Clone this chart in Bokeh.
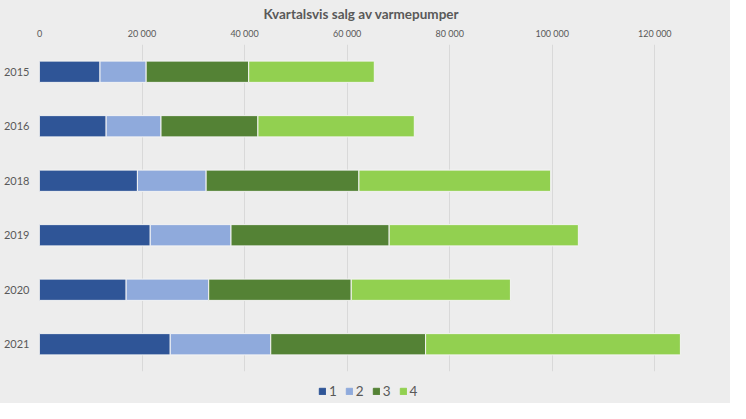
from bokeh.plotting import figure
from bokeh.layouts import column
from bokeh.models import (FactorRange, Range1d, Legend, LegendItem, CustomJSTickFormatter,
                          FixedTicker, ColumnDataSource)
from bokeh.embed import file_html
from bokeh.resources import INLINE

# ---- data ----
years = ["2015", "2016", "2018", "2019", "2020", "2021"]
quarters = ["1", "2", "3", "4"]
q1 = [11800, 13000, 19100, 21600, 16900, 25500]
q2 = [9000, 10700, 13400, 15750, 16100, 19600]
q3 = [20000, 18900, 29800, 30850, 27800, 30200]
q4 = [24500, 30500, 37400, 36900, 31050, 49700]
x_ticks = [0, 20000, 40000, 60000, 80000, 100000, 120000]
title_text = "Kvartalsvis salg av varmepumper"

colors = ["#2F5597", "#8FAADC", "#548235", "#92D050"]
FONT = "Lato"
GRAY = "#595959"
BG = "#EDEDED"
NAN = float("nan")

source = ColumnDataSource(dict(year=years, q1=q1, q2=q2, q3=q3, q4=q4))

p = figure(width=730, height=378, output_backend="svg", toolbar_location=None,
           y_range=FactorRange(factors=list(reversed(years)), range_padding=0),
           x_range=Range1d(0, 131650), x_axis_location="above",
           title=title_text,
           min_border_left=38, min_border_right=16, min_border_bottom=7, min_border_top=0)

renderers = p.hbar_stack(["q1", "q2", "q3", "q4"], y="year", height=0.39, color=colors,
                         source=source, line_color="#F4F4F4", line_width=1)

p.background_fill_color = BG
p.border_fill_color = BG
p.outline_line_color = None

p.title.align = "left"
p.title.offset = 224
p.title.standoff = 6
p.title.text_font = FONT
p.title.text_font_size = "13.5px"
p.title.text_font_style = "bold"
p.title.text_color = GRAY

xa = p.xaxis[0]
xa.ticker = FixedTicker(ticks=x_ticks)
xa.formatter = CustomJSTickFormatter(code="return tick.toLocaleString('en-US').replace(/,/g, ' ');")
xa.axis_line_color = None
xa.major_tick_line_color = None
xa.minor_tick_line_color = None
xa.major_tick_out = 0
xa.major_tick_in = 0
xa.minor_tick_out = 0
xa.major_label_text_font = FONT
xa.major_label_text_font_size = "9px"
xa.major_label_text_color = GRAY
xa.major_label_standoff = 6

ya = p.yaxis[0]
ya.axis_line_color = None
ya.major_tick_line_color = None
ya.minor_tick_line_color = None
ya.major_tick_out = 0
ya.major_tick_in = 0
ya.minor_tick_out = 0
ya.major_label_text_font = FONT
ya.major_label_text_font_size = "11px"
ya.major_label_text_color = GRAY
ya.major_label_standoff = 10

p.ygrid.grid_line_color = None
p.xgrid.ticker = FixedTicker(ticks=x_ticks)
p.xgrid.grid_line_color = "#D9D9D9"
p.xgrid.grid_line_width = 1

# legend in its own strip below the chart
lf = figure(width=730, height=25, output_backend="svg", toolbar_location=None,
            x_range=Range1d(0, 1), y_range=Range1d(0, 1),
            x_axis_type=None, y_axis_type=None,
            min_border_left=0, min_border_right=0, min_border_top=0, min_border_bottom=0)
lf.background_fill_color = BG
lf.border_fill_color = BG
lf.outline_line_color = None
lf.xgrid.visible = False
lf.ygrid.visible = False
keys = [lf.hbar(y=[0.5], left=[NAN], right=[NAN], height=0.5, color=c, line_color=c)
        for c in colors]
legend = Legend(items=[LegendItem(label=q, renderers=[r]) for q, r in zip(quarters, keys)],
                orientation="horizontal", location=(279, 4),
                background_fill_alpha=0, border_line_color=None,
                label_text_font=FONT, label_text_font_size="13.5px", label_text_color=GRAY,
                glyph_width=8, glyph_height=8, spacing=8, label_standoff=3,
                label_width=7, label_height=16, padding=0, margin=0)
lf.add_layout(legend)

layout = column(p, lf, spacing=0)
layout.styles = {"background-color": BG}

open("out.html", "w").write(file_html(layout, INLINE))
